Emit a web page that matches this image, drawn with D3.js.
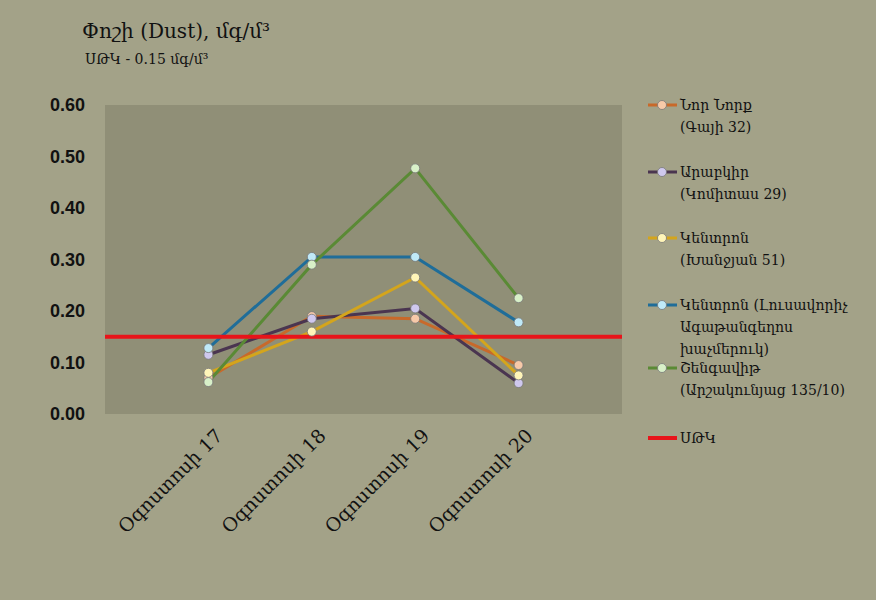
<!DOCTYPE html><html><head><meta charset="utf-8"><script src="https://cdn.jsdelivr.net/npm/d3@7"></script>
<style>body{margin:0;background:#a3a288}</style></head><body><svg id="c" width="876" height="600"></svg><script>
const categories=["Օգոստոսի 17","Օգոստոսի 18","Օգոստոսի 19","Օգոստոսի 20"];
const seriesNames=[["Նոր Նորք","(Գայի 32)"],["Արաբկիր","(Կոմիտաս 29)"],["Կենտրոն","(Խանջյան 51)"],["Կենտրոն (Լուսավորիչ","Ագաթանգեղոս","խաչմերուկ)"],["Շենգավիթ","(Արշակունյաց 135/10)"]];
const norNork=[0.07,0.19,0.185,0.095];
const arabkir=[0.115,0.185,0.205,0.06];
const kentron1=[0.08,0.16,0.265,0.075];
const kentron2=[0.128,0.305,0.305,0.178];
const shengavit=[0.062,0.29,0.477,0.225];
const limit=0.15;
const yTicks=[0,0.1,0.2,0.3,0.4,0.5,0.6];
const lineColors=["#c8692a","#4a3550","#d4a51c","#1f6d99","#5a8a35"];
const dotColors=["#f7c9a8","#cfc8ee","#fff5b8","#bfe9f7","#d8f0c8"];
const data=[norNork,arabkir,kentron1,kentron2,shengavit];
const svg=d3.select("#c");const F="'DejaVu Serif','DejaVu Sans',serif";
svg.append("rect").attr("width",876).attr("height",600).attr("fill","#a3a288");
const L=105,R=622,T=105,B=414;
const x=d3.scaleLinear().domain([0,5]).range([L,R]);
const y=d3.scaleLinear().domain([0,0.6]).range([B,T]);
svg.append("rect").attr("x",L).attr("y",T).attr("width",R-L).attr("height",B-T).attr("fill","#908f77");
svg.append("g").attr("transform",`translate(${L},0)`).call(d3.axisLeft(y).tickValues(yTicks).tickFormat(d3.format(".2f")).tickSize(0).tickPadding(20))
 .call(g=>g.select(".domain").remove()).selectAll("text").attr("font-family","'Liberation Sans',sans-serif").attr("font-size",18).attr("font-weight","bold").attr("fill","#111");
const xa=svg.append("g").attr("transform",`translate(0,${B})`).call(d3.axisBottom(x).tickValues([1,2,3,4]).tickFormat(i=>categories[i-1]).tickSize(0));
xa.select(".domain").remove();
xa.selectAll("text").attr("font-family",F).attr("font-size",19).attr("fill","#111").attr("text-anchor","end").attr("transform","translate(8,16) rotate(-45)").attr("dy","0.35em");
const line=d3.line().x((d,i)=>x(i+1)).y(d=>y(d));
data.forEach((s,k)=>{svg.append("path").datum(s).attr("d",line).attr("fill","none").attr("stroke",lineColors[k]).attr("stroke-width",3);});
svg.append("line").attr("x1",L).attr("x2",R).attr("y1",y(limit)).attr("y2",y(limit)).attr("stroke","#e8141a").attr("stroke-width",4);
data.forEach((s,k)=>{svg.selectAll(null).data(s).enter().append("circle").attr("cx",(d,i)=>x(i+1)).attr("cy",d=>y(d)).attr("r",4.5).attr("fill",dotColors[k]).attr("stroke","#777").attr("stroke-width",0.8);});
svg.append("text").attr("x",82).attr("y",38).attr("font-family",F).attr("font-size",20).attr("fill","#111").text("Փոշի (Dust), մգ/մ³");
svg.append("text").attr("x",85).attr("y",64).attr("font-family",F).attr("font-size",14).attr("fill","#111").text("ՍԹԿ - 0.15 մգ/մ³");
const ly=[105,172,238,305,368];
seriesNames.forEach((n,k)=>{const g=svg.append("g");
 g.append("line").attr("x1",648).attr("x2",677).attr("y1",ly[k]).attr("y2",ly[k]).attr("stroke",lineColors[k]).attr("stroke-width",3);
 g.append("circle").attr("cx",662).attr("cy",ly[k]).attr("r",4.5).attr("fill",dotColors[k]).attr("stroke","#777").attr("stroke-width",0.8);
 n.forEach((t,j)=>g.append("text").attr("x",680).attr("y",ly[k]+5+j*22).attr("font-family",F).attr("font-size",14).attr("fill","#111").text(t));});
svg.append("line").attr("x1",648).attr("x2",677).attr("y1",438).attr("y2",438).attr("stroke","#e8141a").attr("stroke-width",4);
svg.append("text").attr("x",680).attr("y",443).attr("font-family",F).attr("font-size",14).attr("fill","#111").text("ՍԹԿ");
</script></body></html>
